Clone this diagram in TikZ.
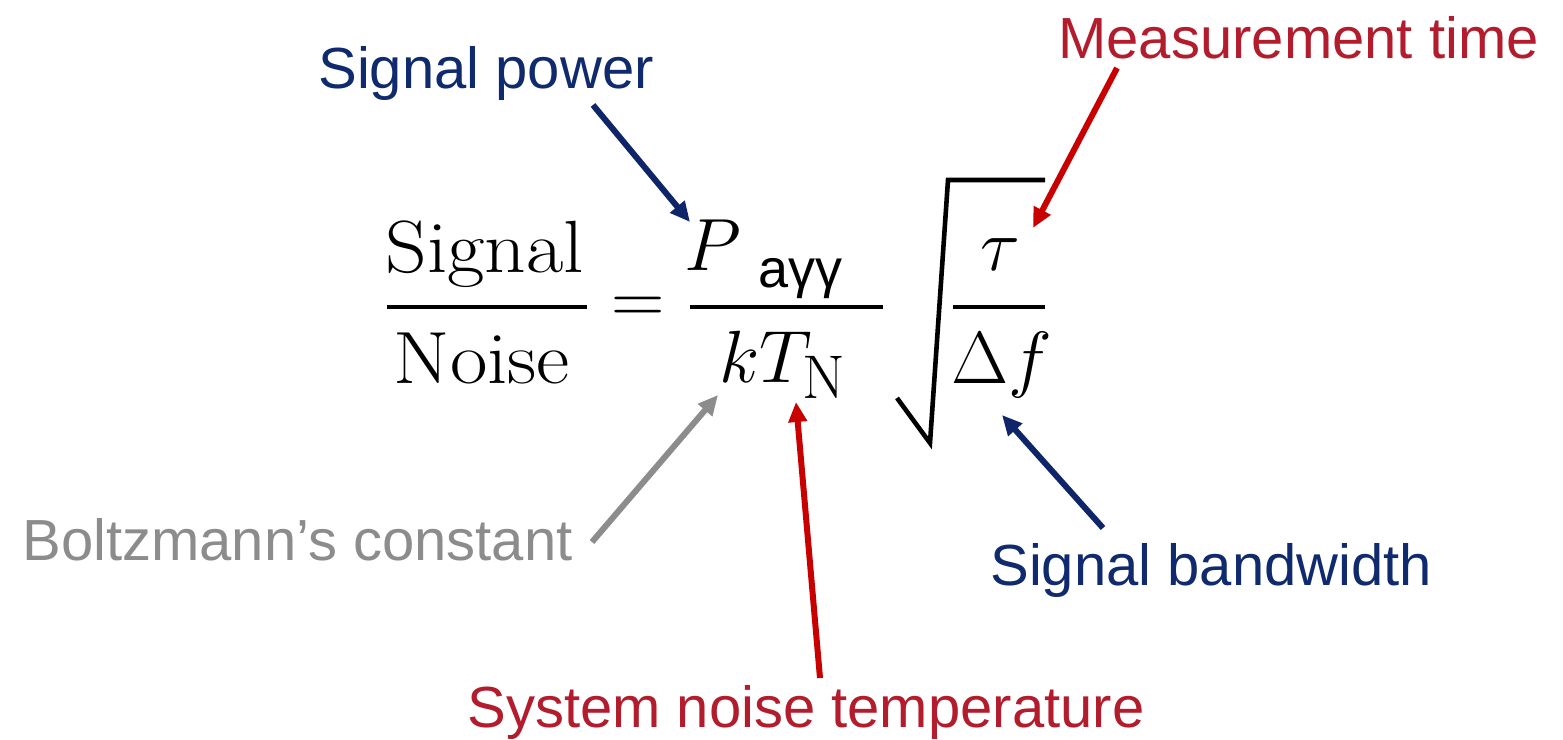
\documentclass[tikz,border=0pt]{standalone}
\usepackage{fontspec}
\newfontfamily\labelfont{Liberation Sans}
\usetikzlibrary{arrows.meta}
\definecolor{navytext}{RGB}{16,42,110}
\definecolor{navyarrow}{RGB}{14,38,105}
\definecolor{redtext}{RGB}{178,28,44}
\definecolor{redarrow}{RGB}{200,0,0}
\definecolor{graytext}{RGB}{140,140,140}
\definecolor{grayarrow}{RGB}{140,140,140}
\tikzset{
  lbl/.style={inner sep=0pt, anchor=base west, font=\labelfont\fontsize{29}{34}\selectfont},
  eq/.style={inner sep=0pt, font=\fontsize{24.88}{30}\selectfont, scale=1.487, transform shape},
  word/.style={eq, xscale=1.1},
  sub/.style={inner sep=0pt, anchor=base west, font=\labelfont\fontsize{27}{32}\selectfont},
  fracbar/.style={line width=2.4pt},
  pointer/.style={line width=3pt, -{Triangle[length=10pt,width=9pt]}},
}
\begin{document}
\begin{tikzpicture}[x=0.5pt,y=-0.5pt]
\useasboundingbox (0,0) rectangle (1563,739);

% --- equation ---
\node[word, anchor=base west] (sig) at (385,272) {Signal};
\draw[fracbar] (387,307) -- (587,307);
\node[word, anchor=base west] (noise) at (393,383) {Noise};
\node[eq, anchor=center] (equals) at (638,310) {$=$};
\node[eq, anchor=base west] (P) at (684,270) {$P$};
\node[sub] (pagg) at (758,287) {aγγ};
\draw[fracbar] (690,307) -- (883,307);
\node[eq, anchor=base west] (kT) at (719,382) {$kT_{\mathrm{N}}$};
\draw[line width=2.3pt, line join=miter] (897,398) -- (930,443) -- (948,180) -- (1045,180);
\node[eq, anchor=base] (tau) at (1000,270) {$\tau$};
\draw[fracbar] (953,307) -- (1045,307);
\node[eq, anchor=base west] (Df) at (951,383) {$\Delta f$};

% --- labels ---
\node[lbl, text=navytext] (lsp) at (318,88) {Signal power};
\node[lbl, text=redtext] (lmt) at (1058,58) {Measurement time};
\node[lbl, text=graytext] (lbc) at (22,560) {Boltzmann’s constant};
\node[lbl, text=navytext] (lsb) at (990,585) {Signal bandwidth};
\node[lbl, text=redtext] (lsn) at (467,727) {System noise temperature};

% --- arrow end points ---
\coordinate (spS) at (593,105);  \coordinate (spE) at (690,222);
\coordinate (mtS) at (1117,68);  \coordinate (mtE) at (1033,228);
\coordinate (bcS) at (592,542);  \coordinate (bcE) at (718,395);
\coordinate (snS) at (820,678);  \coordinate (snE) at (796,402);
\coordinate (sbS) at (1103,528); \coordinate (sbE) at (1002,415);

\draw[pointer, navyarrow] (spS) -- (spE);
\draw[pointer, redarrow] (mtS) -- (mtE);
\draw[pointer, grayarrow] (bcS) -- (bcE);
\draw[pointer, redarrow] (snS) -- (snE);
\draw[pointer, navyarrow] (sbS) -- (sbE);
\end{tikzpicture}
\end{document}
